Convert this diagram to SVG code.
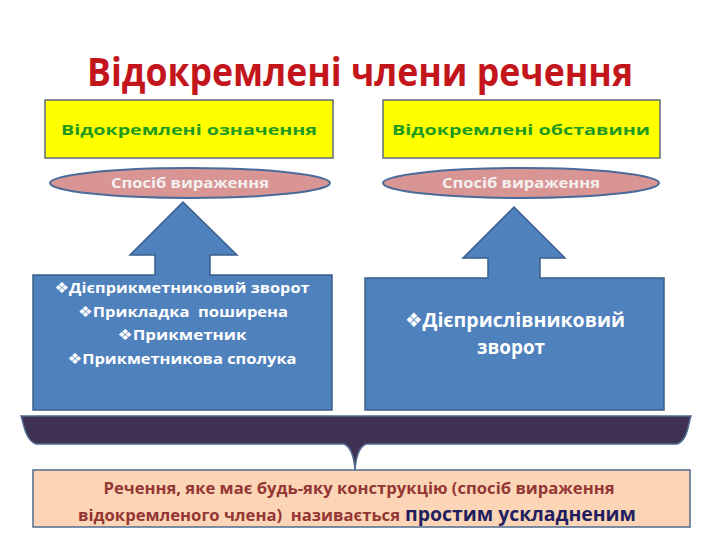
<svg xmlns="http://www.w3.org/2000/svg" width="720" height="540" viewBox="0 0 720 540">
<style>
.t{font-family:"Open Sans","Noto Sans","DejaVu Sans",sans-serif;font-weight:bold;white-space:pre}
.yb{fill:#FFFF00;stroke:#5B6B7B;stroke-width:1.5}
.yt{fill:#1E9B1E;font-size:15px}
.el{fill:#D99594;stroke:#4A6A9A;stroke-width:2}
.et{fill:#F4F0F0;font-size:15px}
.blue{fill:#4F81BD;stroke:#3A5F8A;stroke-width:1.5}
.wt{fill:#FFFFFF;font-size:15px}
</style>
<rect width="720" height="540" fill="#FFFFFF"/>
<text class="t" x="360" y="86" text-anchor="middle" font-size="40" fill="#C3161C" textLength="546" lengthAdjust="spacingAndGlyphs">Відокремлені члени речення</text>

<g id="def-box">
<rect class="yb" x="45" y="100" width="288" height="58"/>
<text class="t yt" x="189" y="135" text-anchor="middle" textLength="256" lengthAdjust="spacingAndGlyphs">Відокремлені означення</text>
</g>
<g id="adv-box">
<rect class="yb" x="383" y="100" width="277" height="58"/>
<text class="t yt" x="521" y="135" text-anchor="middle" textLength="258" lengthAdjust="spacingAndGlyphs">Відокремлені обставини</text>
</g>

<g id="def-way">
<ellipse class="el" cx="190" cy="183" rx="140" ry="15"/>
<text class="t et" x="190" y="188" text-anchor="middle" textLength="158" lengthAdjust="spacingAndGlyphs">Спосіб вираження</text>
</g>
<g id="adv-way">
<ellipse class="el" cx="521" cy="183" rx="138" ry="15"/>
<text class="t et" x="521" y="188" text-anchor="middle" textLength="158" lengthAdjust="spacingAndGlyphs">Спосіб вираження</text>
</g>

<g id="def-types">
<path class="blue" d="M33,275 L155,275 L155,255 L130,255 L183,202 L237,255 L210,255 L210,275 L332,275 L332,410 L33,410 Z"/>
<text class="t wt" x="182" y="293" text-anchor="middle" textLength="255" lengthAdjust="spacingAndGlyphs">❖Дієприкметниковий зворот</text>
<text class="t wt" x="183" y="317" text-anchor="middle" textLength="210" lengthAdjust="spacingAndGlyphs">❖Прикладка  поширена</text>
<text class="t wt" x="182" y="340" text-anchor="middle" textLength="129" lengthAdjust="spacingAndGlyphs">❖Прикметник</text>
<text class="t wt" x="182" y="364" text-anchor="middle" textLength="229" lengthAdjust="spacingAndGlyphs">❖Прикметникова сполука</text>
</g>
<g id="adv-types">
<path class="blue" d="M365,278 L488,278 L488,258 L463,258 L514,207 L565,258 L540,258 L540,278 L664,278 L664,410 L365,410 Z"/>
<text class="t" x="515" y="327" text-anchor="middle" font-size="20" fill="#FFFFFF" textLength="220" lengthAdjust="spacingAndGlyphs">❖Дієприслівниковий</text>
<text class="t" x="511" y="354" text-anchor="middle" font-size="20" fill="#FFFFFF" textLength="68" lengthAdjust="spacingAndGlyphs">зворот</text>
</g>

<g id="connectors">
<path d="M21,416 L691,416 C688,424 688,440 677,444 L366,444 C359,447 356,456 355,470 C354,456 351,447 344,444 L36,444 C25,440 24,424 21,416 Z" fill="#3F3151" stroke="#4F6C8E" stroke-width="1.5"/>
</g>

<g id="definition">
<rect x="33" y="470" width="657" height="57" fill="#FBD5B5" stroke="#4F6C8E" stroke-width="1.5"/>
<text class="t" x="359" y="494" text-anchor="middle" font-size="16" fill="#943634" textLength="511" lengthAdjust="spacingAndGlyphs">Речення, яке має будь-яку конструкцію (спосіб вираження</text>
<text class="t" x="78" y="521" font-size="16" fill="#943634" textLength="322" lengthAdjust="spacingAndGlyphs">відокремленого члена)  називається</text>
<text class="t" x="405" y="521" font-size="20" fill="#1F1F5F" textLength="231" lengthAdjust="spacingAndGlyphs">простим ускладненим</text>
</g>
</svg>
